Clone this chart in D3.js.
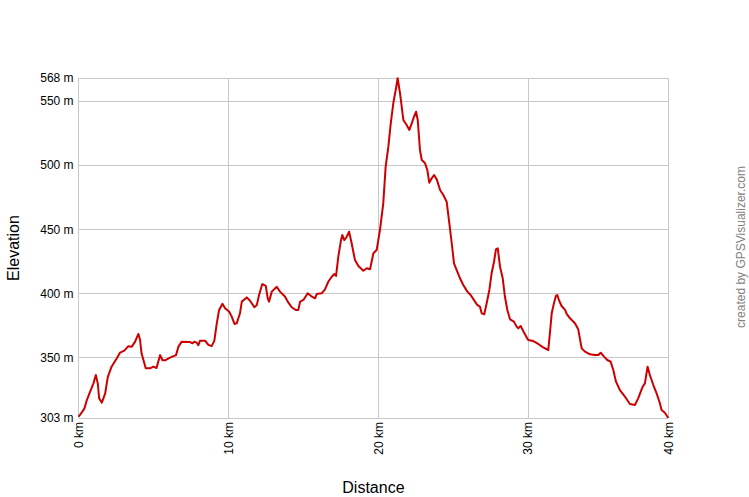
<!DOCTYPE html>
<html><head><meta charset="utf-8">
<script src="https://cdn.jsdelivr.net/npm/d3@7/dist/d3.min.js"></script>
<style>body{margin:0;background:#fff}svg{display:block}text{font-family:"Liberation Sans",Arial,sans-serif}</style>
</head><body>
<script>
const distanceKm = [0,0.25,0.39,0.55,0.77,0.99,1.15,1.28,1.37,1.55,1.77,1.95,2.2,2.55,2.77,3.05,3.32,3.55,3.77,3.99,4.1,4.2,4.48,4.77,4.99,5.2,5.44,5.6,5.77,6.1,6.5,6.66,6.88,7.44,7.6,7.72,7.88,7.99,8.1,8.44,8.66,8.88,9.06,9.22,9.37,9.6,9.77,10.04,10.22,10.4,10.55,10.77,10.89,11.22,11.44,11.73,11.89,12.04,12.26,12.49,12.62,12.71,12.89,13.22,13.44,13.78,14.0,14.22,14.49,14.66,14.78,15.0,15.29,15.51,15.78,15.89,16.22,16.44,16.66,16.89,17.07,17.18,17.33,17.51,17.6,17.73,17.89,18.05,18.22,18.44,18.67,19.0,19.23,19.45,19.67,19.89,20.11,20.33,20.49,20.67,20.83,21.0,21.18,21.29,21.45,21.67,21.89,22.07,22.23,22.38,22.52,22.63,22.78,22.9,23.12,23.27,23.4,23.56,23.72,23.9,24.12,24.34,24.56,24.74,24.9,25.05,25.27,25.45,25.67,25.94,26.16,26.45,26.6,26.78,26.9,27.07,27.23,27.41,27.56,27.72,27.85,27.97,28.12,28.3,28.45,28.61,28.79,29.05,29.23,29.34,29.5,29.7,30.0,30.34,30.67,31.0,31.34,31.45,31.57,31.72,31.85,31.94,32.07,32.23,32.46,32.57,32.79,33.12,33.34,33.57,33.79,34.12,34.46,34.68,34.84,35.06,35.28,35.5,35.68,35.86,36.12,36.46,36.79,37.12,37.34,37.64,37.79,37.86,37.97,38.12,38.35,38.57,38.79,38.9,39.12,39.35];
const elevationM = [304,308,310.5,317,323.5,330,336.5,330,318.4,315,322,335,343,349.5,354,355.5,359,358.5,362.5,368.5,364,353.4,341.7,341.7,343,342,352,348,348,350,352,358.6,362.5,362.2,361.2,362.5,361.7,359.7,363.3,363.3,360,359,363.3,376.8,387,392,388.5,386,382,376.3,376.8,384.6,393.7,397,394.4,389.3,391,398.9,407.4,405.9,396.3,393.7,401.5,405.3,401.5,397.5,392.9,389.3,387.2,387.2,393.7,395,400.2,398,396.3,399.6,400.2,403.3,409.2,413.1,415.2,413.7,428.7,441.7,445.6,441.7,444.3,448.2,439.2,426.1,421.5,417.8,419.7,418.9,431.4,434,449.5,470.3,498.9,514.5,532.7,548.3,560,567.8,556,535.3,531.4,527.5,532.7,537.8,541.7,535.3,511.9,504.1,501.5,496.3,486.4,489.8,492.4,489,480.7,476.8,471.6,454.7,439.2,423.6,417,411.9,406.7,401.5,398.9,393.7,391.1,389.8,384.6,383.8,392.4,402.8,415.8,424.8,434.5,435.3,421,411.9,397.5,387.2,379.9,378.1,374.2,372.9,374.7,370,363.8,363,360.7,358.1,356,369,384.6,392.4,398.1,398.9,394.4,390.3,387.2,384.1,380.7,376.8,372.1,357.3,354.7,352.6,352.1,352.1,353.9,350.8,348.2,346.9,340.4,331.3,324.8,319.6,313.9,313.1,318.3,327.4,330,335.2,343,336.5,328.7,322.2,314.5,309.2,307.1,303];
const yTickValues = [303,350,400,450,500,550,568];
const xTickValues = [0,10,20,30,39.35];
const xTickLabels = ["0 km","10 km","20 km","30 km","40 km"];

const W = 749, H = 497;
const L = 78.6, R = 668.3, T = 78, B = 418;
const svg = d3.select("body").append("svg").attr("width", W).attr("height", H);
const x = d3.scaleLinear().domain([0, 39.35]).range([L, R]);
const y = d3.scaleLinear().domain([303, 568]).range([B, T]);
const grid = "#c8c8c8";

// horizontal grid
svg.append("g").selectAll("line").data(yTickValues).join("line")
  .attr("x1", L).attr("x2", R).attr("y1", d => y(d)).attr("y2", d => y(d))
  .attr("stroke", grid).attr("stroke-width", 1).attr("shape-rendering", "crispEdges");
// vertical grid
svg.append("g").selectAll("line").data(xTickValues).join("line")
  .attr("x1", d => x(d)).attr("x2", d => x(d)).attr("y1", T).attr("y2", B)
  .attr("stroke", grid).attr("stroke-width", 1).attr("shape-rendering", "crispEdges");

// y tick labels
svg.append("g").selectAll("text").data(yTickValues).join("text")
  .attr("x", L - 5).attr("y", d => y(d)).attr("dy", "0.35em")
  .attr("text-anchor", "end").attr("font-size", 12).attr("fill", "#000")
  .text(d => d + " m");
// x tick labels
svg.append("g").selectAll("text").data(xTickValues).join("text")
  .attr("transform", d => `translate(${x(d)},${B + 4}) rotate(-90)`)
  .attr("dy", "0.35em").attr("text-anchor", "end").attr("font-size", 12).attr("fill", "#000")
  .text((d, i) => xTickLabels[i]);

// line
const pts = distanceKm.map((d, i) => [d, elevationM[i]]);
svg.append("path").datum(pts)
  .attr("d", d3.line().x(d => x(d[0])).y(d => y(d[1])))
  .attr("fill", "none").attr("stroke", "#cc0000").attr("stroke-width", 2)
  .attr("stroke-linejoin", "round");

// axis titles
svg.append("text").attr("x", (L + R) / 2).attr("y", 493).attr("text-anchor", "middle")
  .attr("font-size", 16).text("Distance");
svg.append("text").attr("transform", `translate(19,${(T + B) / 2}) rotate(-90)`)
  .attr("text-anchor", "middle").attr("font-size", 16).text("Elevation");
svg.append("text").attr("transform", `translate(745,247) rotate(-90)`)
  .attr("text-anchor", "middle").attr("font-size", 12).attr("fill", "#808080")
  .text("created by GPSVisualizer.com");
</script>
</body></html>
